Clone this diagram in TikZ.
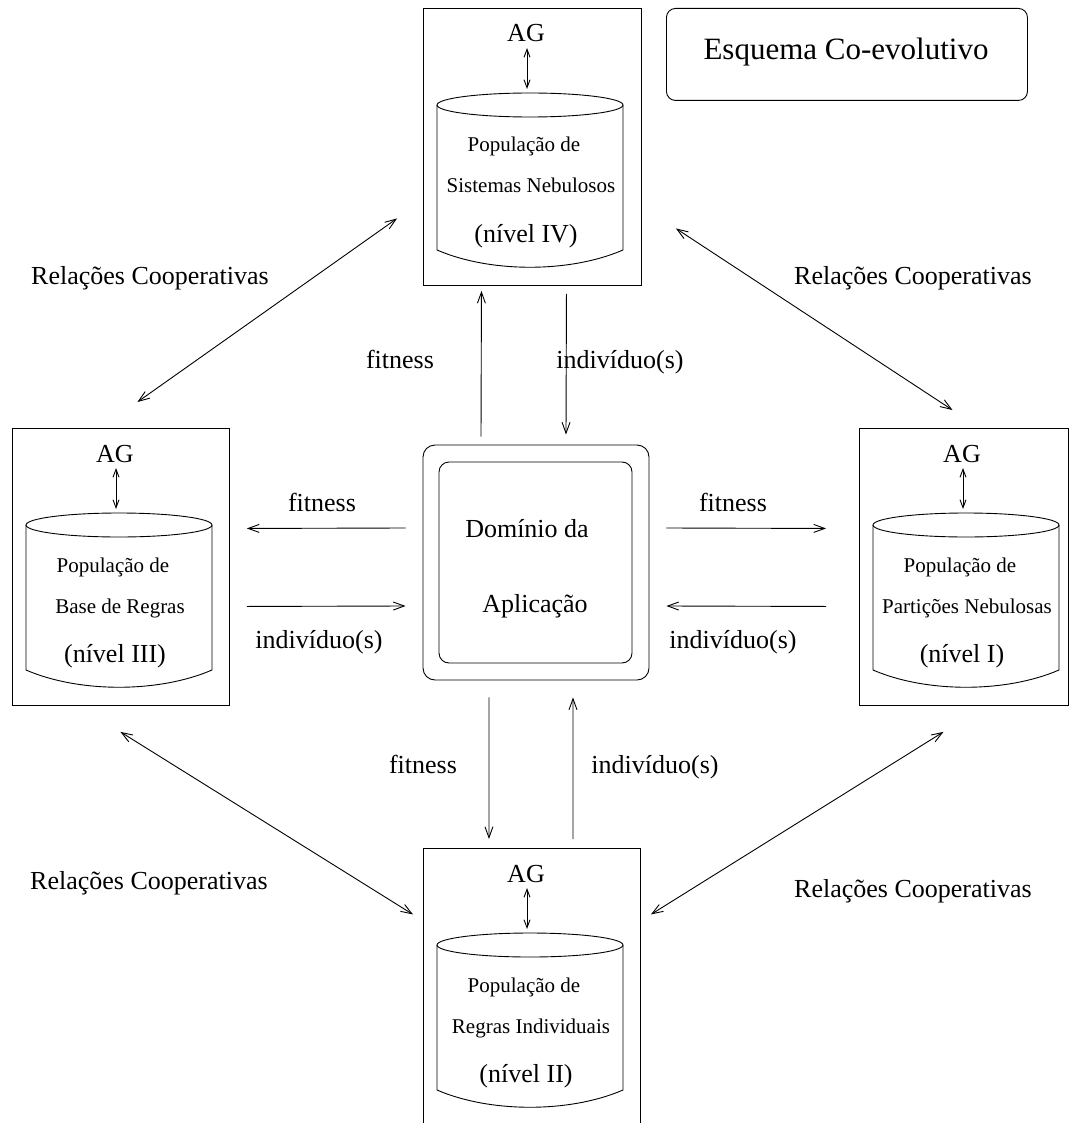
\documentclass[tikz,border=0pt]{standalone}
\usepackage{fontspec}
\setmainfont{Liberation Serif}
\usetikzlibrary{arrows.meta,calc}

\begin{document}
\begin{tikzpicture}[
  x=1pt,y=-1pt,
  line width=0.9pt,
  seta/.style={-{Straight Barb[length=11pt,width=8pt]}},
  dupla/.style={{Straight Barb[length=11pt,width=8pt]}-{Straight Barb[length=11pt,width=8pt]}},
  agseta/.style={{Straight Barb[length=8pt,width=6pt]}-{Straight Barb[length=8pt,width=6pt]}},
  caixa/.style={draw,inner sep=0pt,anchor=north west,minimum height=277pt},
  grande/.style={font=\fontsize{26}{30}\selectfont,anchor=base,inner sep=0pt},
  pequeno/.style={font=\fontsize{21}{25}\selectfont,anchor=base,inner sep=0pt}
]
\useasboundingbox (0,0) rectangle (1070,1123);
\clip (0,0) rectangle (1070,1123);

% os quatro niveis
\foreach \nome/\X/\Y/\W/\ta/\tb/\tc in {
  niv4/423/8/218/{População de}/{Sistemas Nebulosos}/{(nível IV)},
  niv3/12/428/217/{População de}/{Base de Regras}/{(nível III)},
  niv1/859/428/209/{População de}/{Partições Nebulosas}/{(nível I)},
  niv2/423/848/217/{População de}/{Regras Individuais}/{(nível II)}}{
  \node[caixa,minimum width=\W pt] (\nome) at (\X,\Y) {};
  \node[grande] (\nome-ag) at ($(\nome.north west)+(103,34)$) {AG};
  \coordinate (\nome-c) at ($(\nome.north west)+(107,97)$);
  \coordinate (\nome-topo) at ($(\nome.north west)+(104,85)$);
  \draw (\nome-c) ellipse [x radius=93pt,y radius=12pt];
  \draw ($(\nome-c)+(-93,0)$) -- ($(\nome-c)+(-93,145)$)
    .. controls ($(\nome-c)+(-40,168)$) and ($(\nome-c)+(40,168)$) .. ($(\nome-c)+(93,145)$)
    -- ($(\nome-c)+(93,0)$);
  \draw[agseta] ($(\nome-ag.base)+(1,6)$) -- ($(\nome-topo)+(0,-4)$);
  \node[pequeno] (\nome-a) at ($(\nome.north west)+(101,144)$) {\ta};
  \node[pequeno] (\nome-b) at ($(\nome.north west)+(108,185)$) {\tb};
  \node[grande] (\nome-n) at ($(\nome.north west)+(103,234)$) {\tc};
}

% dominio
\node[draw,rounded corners=12pt,minimum width=226pt,minimum height=235pt,inner sep=0pt] (dom) at (536,562.5) {};
\node[draw,rounded corners=10pt,minimum width=193pt,minimum height=201pt,inner sep=0pt] (domin) at (535.5,562.5) {};
\node[grande] (dom1) at (527,537) {Domínio da};
\node[grande] (dom2) at (535,612) {Aplicação};

% titulo
\node[draw,rounded corners=9pt,minimum width=361pt,minimum height=92pt,anchor=north west,inner sep=0pt] (titulo) at (666,8) {};
\node[font=\fontsize{31}{36}\selectfont,anchor=base,inner sep=0pt] (titulotxt) at (846,60) {Esquema Co-evolutivo};

% fitness e individuos
\draw[seta] ($(dom.north)+(-55,-8)$) -- ($(niv4.south)+(-51,5)$);
\draw[seta] ($(niv4.south)+(34,8)$) -- ($(dom.north)+(30,-10)$);
\node[grande] (f4) at (400,368) {fitness};
\node[grande] (i4) at (620,368) {indivíduo(s)};

\draw[seta] ($(dom.west)+(-17,-34.5)$) -- ($(niv3.east)+(17,-38.5)$);
\draw[seta] ($(niv3.east)+(17,39.5)$) -- ($(dom.west)+(-17,43.5)$);
\node[grande] (f3) at (322,511) {fitness};
\node[grande] (i3) at (319,648) {indivíduo(s)};

\draw[seta] ($(dom.east)+(17,-34.5)$) -- ($(niv1.west)+(-33,-38.5)$);
\draw[seta] ($(niv1.west)+(-33,39.5)$) -- ($(dom.east)+(17,43.5)$);
\node[grande] (f1) at (733,511) {fitness};
\node[grande] (i1) at (733,648) {indivíduo(s)};

\draw[seta] ($(dom.south)+(-47,17)$) -- ($(niv2.north)+(-43,-9)$);
\draw[seta] ($(niv2.north)+(41,-9)$) -- ($(dom.south)+(37,17)$);
\node[grande] (f2) at (423,773) {fitness};
\node[grande] (i2) at (655,773) {indivíduo(s)};

% relacoes cooperativas
\draw[dupla] ($(niv4.west)+(-26,71.5)$) -- ($(niv3.north)+(16.5,-26)$);
\draw[dupla] ($(niv4.east)+(34,81.5)$) -- ($(niv1.north)+(-11.5,-18)$);
\draw[dupla] ($(niv3.south)+(-0.5,26)$) -- ($(niv2.west)+(-10,-72.5)$);
\draw[dupla] ($(niv1.south)+(-20.5,26)$) -- ($(niv2.east)+(10,-72.5)$);
\node[grande] (rc1) at (150,284) {Relações Cooperativas};
\node[grande] (rc2) at (913,284) {Relações Cooperativas};
\node[grande] (rc3) at (149,889) {Relações Cooperativas};
\node[grande] (rc4) at (913,897) {Relações Cooperativas};
\end{tikzpicture}
\end{document}
